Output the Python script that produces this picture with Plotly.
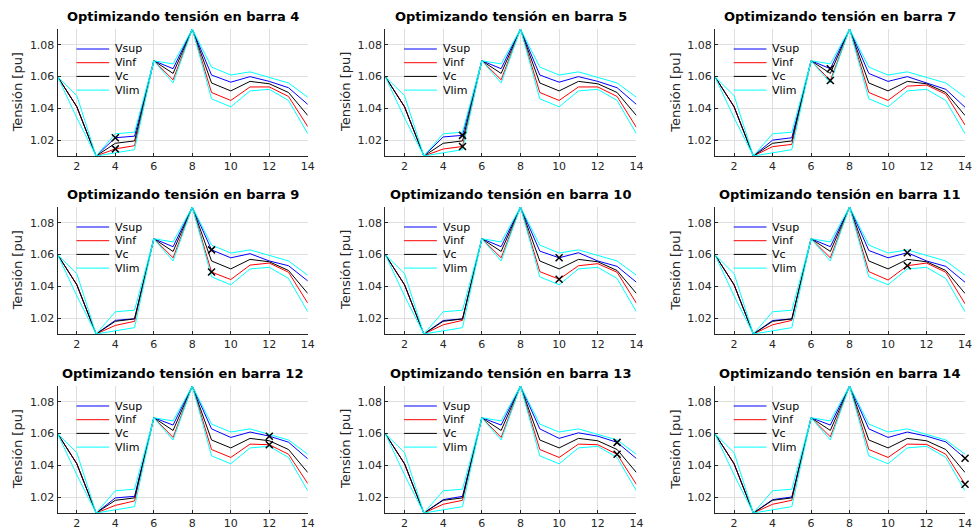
import plotly.graph_objects as go

# Bus numbers of the 14-bus system
bars = list(range(1, 15))

# Bus being optimised in each subplot (one panel per bus)
optimized_bars = [4, 5, 7, 9, 10, 11, 12, 13, 14]

# Voltage limit envelope (upper and lower) [pu]
v_lim_sup = [1.060, 1.048, 1.010, 1.024, 1.025, 1.070, 1.068, 1.090, 1.066, 1.061, 1.063, 1.0595, 1.056, 1.047]
v_lim_inf = [1.060, 1.034, 1.010, 1.012, 1.014, 1.070, 1.056, 1.090, 1.046, 1.041, 1.051, 1.052, 1.045, 1.024]

# Base-case voltage profile [pu]
v_c = [1.060, 1.041, 1.010, 1.018, 1.0195, 1.070, 1.062, 1.090, 1.056, 1.051, 1.057, 1.0555, 1.050, 1.0355]

# Upper voltage profile obtained when optimising each bus [pu]
v_sup = [
    [1.060, 1.041, 1.010, 1.0215, 1.0225, 1.070, 1.065, 1.090, 1.061, 1.0565, 1.060, 1.057, 1.053, 1.0425],
    [1.060, 1.041, 1.010, 1.0220, 1.0230, 1.070, 1.065, 1.090, 1.061, 1.0565, 1.060, 1.057, 1.053, 1.0425],
    [1.060, 1.041, 1.010, 1.0200, 1.0215, 1.070, 1.065, 1.090, 1.062, 1.057, 1.060, 1.0558, 1.052, 1.0407],
    [1.060, 1.041, 1.010, 1.0186, 1.0196, 1.070, 1.065, 1.090, 1.063, 1.058, 1.0606, 1.056, 1.053, 1.0434],
    [1.060, 1.041, 1.010, 1.0185, 1.0195, 1.070, 1.065, 1.090, 1.0622, 1.058, 1.0612, 1.056, 1.0526, 1.0426],
    [1.060, 1.041, 1.010, 1.0185, 1.0195, 1.070, 1.065, 1.090, 1.0626, 1.058, 1.0612, 1.056, 1.0526, 1.0426],
    [1.060, 1.041, 1.010, 1.0195, 1.0205, 1.070, 1.0654, 1.090, 1.063, 1.0576, 1.061, 1.0584, 1.0546, 1.0441],
    [1.060, 1.041, 1.010, 1.0184, 1.0205, 1.070, 1.0654, 1.090, 1.063, 1.057, 1.0605, 1.0584, 1.0545, 1.0443],
    [1.060, 1.041, 1.010, 1.0184, 1.0201, 1.070, 1.0654, 1.090, 1.063, 1.0576, 1.061, 1.0584, 1.0548, 1.0445],
]

# Lower voltage profile obtained when optimising each bus [pu]
v_inf = [
    [1.060, 1.041, 1.010, 1.0145, 1.0165, 1.070, 1.058, 1.090, 1.050, 1.045, 1.0535, 1.0535, 1.0475, 1.0285],
    [1.060, 1.041, 1.010, 1.0144, 1.0160, 1.070, 1.058, 1.090, 1.050, 1.045, 1.0535, 1.0535, 1.0475, 1.028],
    [1.060, 1.041, 1.010, 1.0159, 1.0173, 1.070, 1.0575, 1.090, 1.050, 1.045, 1.054, 1.0547, 1.0489, 1.0295],
    [1.060, 1.041, 1.010, 1.0154, 1.0180, 1.070, 1.058, 1.090, 1.049, 1.0443, 1.0534, 1.0547, 1.0489, 1.0294],
    [1.060, 1.041, 1.010, 1.0158, 1.0186, 1.070, 1.058, 1.090, 1.0493, 1.0445, 1.053, 1.0543, 1.0489, 1.0294],
    [1.060, 1.041, 1.010, 1.0158, 1.0186, 1.070, 1.058, 1.090, 1.0493, 1.044, 1.053, 1.0547, 1.0489, 1.029],
    [1.060, 1.041, 1.010, 1.0148, 1.0176, 1.070, 1.0576, 1.090, 1.050, 1.045, 1.0534, 1.053, 1.047, 1.0285],
    [1.060, 1.041, 1.010, 1.0155, 1.0180, 1.070, 1.0576, 1.090, 1.050, 1.045, 1.0534, 1.053, 1.047, 1.028],
    [1.060, 1.041, 1.010, 1.0155, 1.0180, 1.070, 1.058, 1.090, 1.050, 1.045, 1.0534, 1.0532, 1.047, 1.0281],
]

x_ticks = [2, 4, 6, 8, 10, 12, 14]
y_ticks = [1.02, 1.04, 1.06, 1.08]
y_tick_text = ["1.02", "1.04", "1.06", "1.08"]

legend_names = ["Vsup", "Vinf", "Vc", "Vlim"]
c_sup, c_inf, c_c, c_lim = "#0000ff", "#ff0000", "#000000", "#00ffff"
legend_colors = [c_sup, c_inf, c_c, c_lim]

W, H = 979, 531
FONT = "DejaVu Sans"
AX_COLOR = "#262626"
GRID_COLOR = "#dfdfdf"

col_px = [(58, 310), (388, 641), (720, 972)]
row_px = [(29, 156), (207, 334), (386, 513)]

fig = go.Figure()
shapes, annotations = [], []
layout_axes = {}

for k, bus in enumerate(optimized_bars):
    r, c = divmod(k, 3)
    x0, x1 = col_px[c]
    y0, y1 = row_px[r]
    n = "" if k == 0 else str(k + 1)
    xa, ya = "x" + n, "y" + n

    layout_axes["xaxis" + n] = dict(
        domain=[x0 / W, x1 / W], anchor=ya, range=[1, 14],
        tickvals=x_ticks, ticks="inside", ticklen=3, tickcolor=AX_COLOR,
        showgrid=True, gridcolor=GRID_COLOR, gridwidth=1,
        showline=True, linecolor=AX_COLOR, linewidth=1, zeroline=False,
        tickfont=dict(family=FONT, size=11, color=AX_COLOR),
    )
    layout_axes["yaxis" + n] = dict(
        domain=[1 - y1 / H, 1 - y0 / H], anchor=xa, range=[1.01, 1.09],
        tickvals=y_ticks, ticktext=y_tick_text, ticks="inside", ticklen=3,
        tickcolor=AX_COLOR, showgrid=True, gridcolor=GRID_COLOR, gridwidth=1,
        showline=True, linecolor=AX_COLOR, linewidth=1, zeroline=False,
        tickfont=dict(family=FONT, size=11, color=AX_COLOR),
    )

    sup, inf = v_sup[k], v_inf[k]
    for ys, col in [(sup, c_sup), (inf, c_inf), (v_c, c_c),
                    (v_lim_sup, c_lim), (v_lim_inf, c_lim)]:
        fig.add_trace(go.Scatter(x=bars, y=ys, mode="lines", xaxis=xa, yaxis=ya,
                                 line=dict(color=col, width=1), showlegend=False,
                                 hoverinfo="skip"))
    i = bars.index(bus)
    fig.add_trace(go.Scatter(
        x=[bus, bus], y=[sup[i], inf[i]], mode="markers", xaxis=xa, yaxis=ya,
        marker=dict(symbol="x-thin", size=7, line=dict(color="#000000", width=1.5)),
        cliponaxis=False, showlegend=False, hoverinfo="skip"))

    # Title
    annotations.append(dict(
        text="<b>Optimizando tensión en barra %d</b>" % bus,
        x=(x0 + x1) / 2 / W, y=1 - (y0 - 3) / H, xref="paper", yref="paper",
        xanchor="center", yanchor="bottom", showarrow=False,
        font=dict(family=FONT, size=13, color="#000000")))
    # Y-axis label
    annotations.append(dict(
        text="Tensión [pu]", textangle=-90,
        x=(x0 - 40) / W, y=1 - (y0 + y1) / 2 / H, xref="paper", yref="paper",
        xanchor="center", yanchor="middle", showarrow=False,
        font=dict(family=FONT, size=13, color=AX_COLOR)))
    # In-axes legend without box
    for j, (name, col) in enumerate(zip(legend_names, legend_colors)):
        ly = y0 + 20 + 13.7 * j
        shapes.append(dict(type="line", xref="paper", yref="paper",
                           x0=(x0 + 19) / W, x1=(x0 + 52) / W,
                           y0=1 - ly / H, y1=1 - ly / H,
                           line=dict(color=col, width=1)))
        annotations.append(dict(
            text=name, x=(x0 + 56) / W, y=1 - ly / H, xref="paper", yref="paper",
            xanchor="left", yanchor="middle", showarrow=False,
            font=dict(family=FONT, size=11, color="#000000")))

fig.update_layout(
    width=W, height=H, margin=dict(l=0, r=0, t=0, b=0),
    paper_bgcolor="white", plot_bgcolor="white",
    shapes=shapes, annotations=annotations, showlegend=False,
    **layout_axes,
)

fig.write_html("out.html")
